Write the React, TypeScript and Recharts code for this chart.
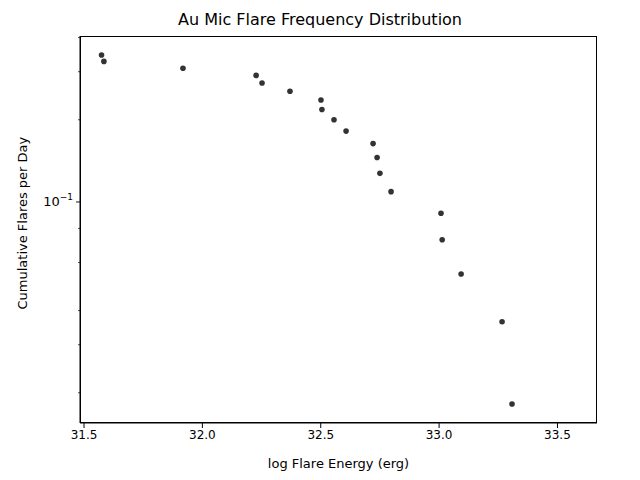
import { ScatterChart, Scatter, XAxis, YAxis } from 'recharts';

const energies = [31.574, 31.584, 31.918, 32.227, 32.252, 32.37, 32.501, 32.505, 32.556, 32.607, 32.721, 32.738, 32.75, 32.797, 33.008, 33.013, 33.093, 33.266, 33.308];
const rates = [0.3455, 0.3273, 0.3091, 0.2909, 0.2727, 0.2545, 0.2364, 0.2182, 0.2, 0.1818, 0.1636, 0.1455, 0.1273, 0.1091, 0.0909, 0.0727, 0.0545, 0.0364, 0.0182];
const xTicks = [31.5, 32.0, 32.5, 33.0, 33.5];
const yTicks = [0.02, 0.03, 0.04, 0.05, 0.06, 0.07, 0.08, 0.09, 0.1, 0.2, 0.3, 0.4];

const data = energies.map((e, i) => ({ e, r: rates[i] }));
const font = 'DejaVu Sans, sans-serif';

function YTick(props: any) {
  const { x, y, payload } = props;
  const major = payload.value === 0.1;
  const x0 = x + 9;
  return (
    <g>
      <line x1={x0} x2={x0 - (major ? 5 : 3)} y1={y} y2={y} stroke="#000" strokeWidth={major ? 0.9 : 0.7} />
      {major && (
        <text x={x0 - 8} y={y + 4} textAnchor="end" fontSize={13} fontFamily={font} fill="#000">
          10<tspan dy={-6} fontSize={9}>−1</tspan>
        </text>
      )}
    </g>
  );
}

export default function App() {
  return (
    <div style={{ position: 'absolute', left: 0, top: 0, width: 640, height: 480, background: '#fff' }}>
      <div style={{ position: 'absolute', top: 10, width: 640, textAlign: 'center', fontFamily: font, fontSize: 16 }}>
        Au Mic Flare Frequency Distribution
      </div>
      <ScatterChart width={640} height={480} margin={{ top: 36, right: 43, bottom: 0, left: 0 }}>
        <XAxis type="number" dataKey="e" domain={[31.483, 33.667]} ticks={xTicks} tickFormatter={(v: number) => v.toFixed(1)}
          height={57} stroke="#000" tick={{ fill: '#000', fontSize: 12, fontFamily: font }} tickSize={5}
          label={{ value: 'log Flare Energy (erg)', position: 'insideBottom', offset: 12, fontSize: 13, fontFamily: font, fill: '#000' }} />
        <YAxis type="number" dataKey="r" scale="log" domain={[0.0155, 0.4055]} ticks={yTicks} width={80} stroke="#000"
          tickLine={false} tick={<YTick />} allowDataOverflow
          label={{ value: 'Cumulative Flares per Day', angle: -90, position: 'insideLeft', offset: 22, dy: 80, fontSize: 13, fontFamily: font, fill: '#000' }} />
        <Scatter data={data} fill="#333" isAnimationActive={false}
          shape={(p: any) => <circle cx={p.cx} cy={p.cy} r={2.8} fill="#333" />} />
      </ScatterChart>
      <div style={{ position: 'absolute', left: 80, top: 36, width: 517, height: 387, border: '1px solid #000', boxSizing: 'border-box', pointerEvents: 'none' }} />
    </div>
  );
}
